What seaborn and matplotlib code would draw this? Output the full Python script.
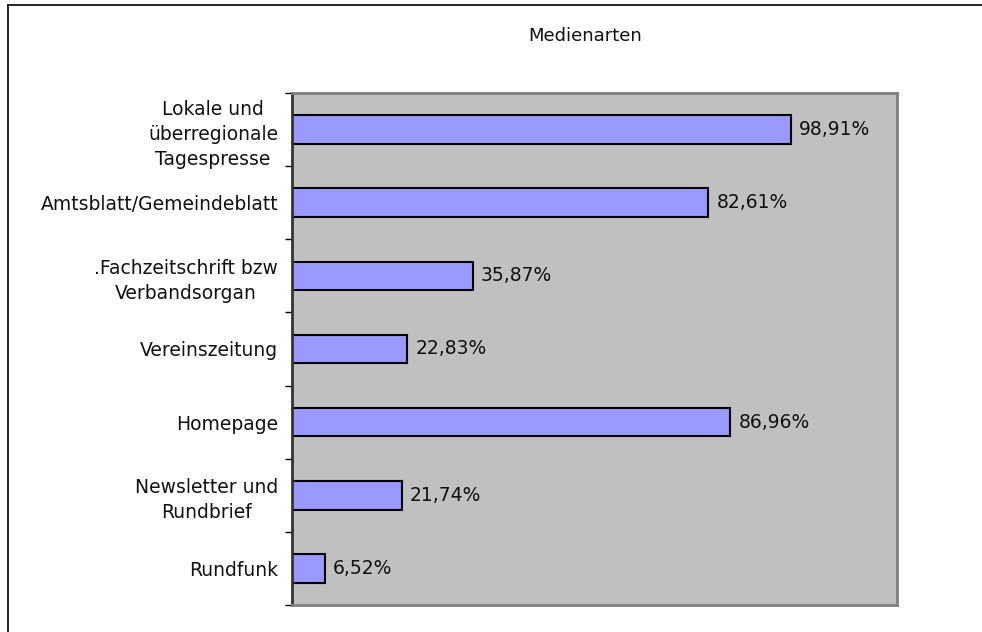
import matplotlib
matplotlib.use("Agg")
import matplotlib.pyplot as plt
import seaborn as sns
import pandas as pd
from matplotlib.lines import Line2D

categories = [
    "Lokale und\nüberregionale\nTagespresse",
    "Amtsblatt/Gemeindeblatt",
    ".Fachzeitschrift bzw\nVerbandsorgan",
    "Vereinszeitung",
    "Homepage",
    "Newsletter und\nRundbrief",
    "Rundfunk",
]
values = [98.91, 82.61, 35.87, 22.83, 86.96, 21.74, 6.52]
value_labels = ["98,91%", "82,61%", "35,87%", "22,83%", "86,96%", "21,74%", "6,52%"]
title = "Medienarten"

df = pd.DataFrame({"Kategorie": categories, "Wert": values})

sns.set_theme(style="white")
plt.rcParams["font.family"] = ["DejaVu Sans"]
fs = 13.5

fig = plt.figure(figsize=(9.82, 6.32), dpi=100)
ax = fig.add_axes([292/982, 1-605/632, (897-292)/982, (605-93)/632])
ax.set_facecolor("#C0C0C0")

sns.barplot(data=df, y="Kategorie", x="Wert", orient="h", color="#9999FF",
            saturation=1, width=0.39, edgecolor="black", linewidth=1.5, ax=ax)

ax.set_xlim(0, 120)
ax.set_ylim(len(categories) - 0.5, -0.5)
ax.set_xlabel("")
ax.set_ylabel("")
ax.set_xticks([])

ax.set_yticks(range(len(categories)))
ax.set_yticklabels(categories, fontsize=fs, color="#111111")
ax.tick_params(axis="y", which="major", length=0, pad=10)
for lbl in ax.get_yticklabels():
    lbl.set_horizontalalignment("right")
    lbl.set_multialignment("center")
    lbl.set_linespacing(1.4)

ax.set_yticks([i - 0.5 for i in range(len(categories) + 1)], minor=True)
ax.tick_params(axis="y", which="minor", length=5, width=1, color="black", left=True, direction="out")

for i, (v, t) in enumerate(zip(values, value_labels)):
    ax.text(v + 1.6, i, t, va="center", ha="left", fontsize=fs, color="#111111")

for side in ["top", "right", "bottom"]:
    ax.spines[side].set_color("#808080")
    ax.spines[side].set_linewidth(2)
ax.spines["left"].set_color("#333333")
ax.spines["left"].set_linewidth(2)

fig.text(585/982, 1-36/632, title, ha="center", va="center", fontsize=13, color="#111111")

fig.add_artist(Line2D([7.5/982, 7.5/982], [1-4.5/632, 0], transform=fig.transFigure, color="black", lw=1.2))
fig.add_artist(Line2D([7.5/982, 1], [1-4.5/632, 1-4.5/632], transform=fig.transFigure, color="black", lw=1.2))

fig.savefig("out.png", dpi=100, facecolor="white")
